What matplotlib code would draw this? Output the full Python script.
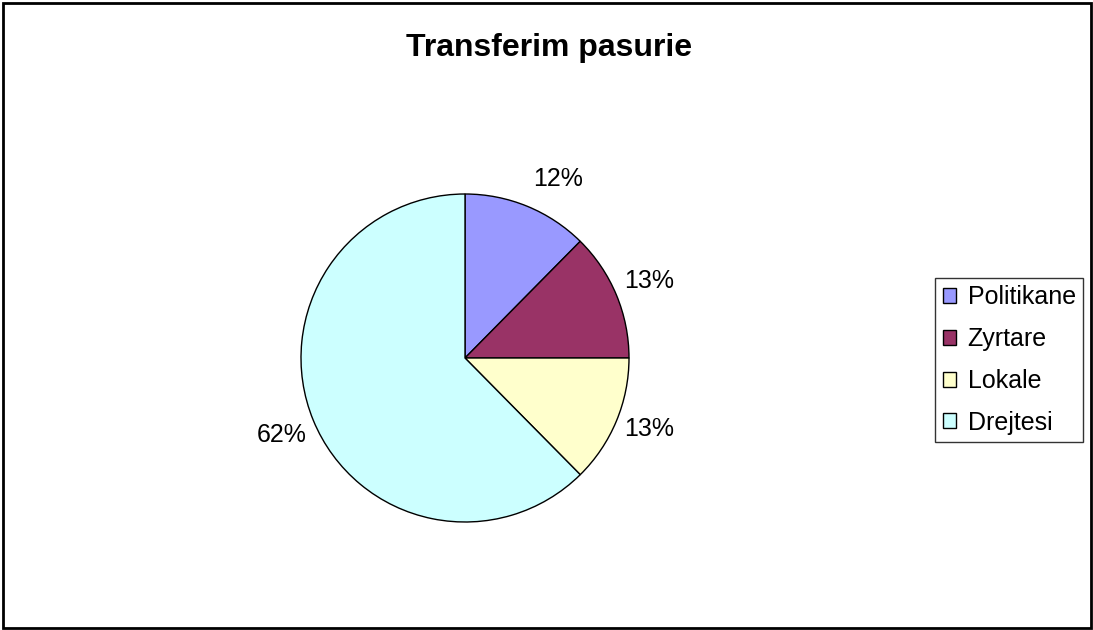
import matplotlib
matplotlib.use("Agg")
import matplotlib.pyplot as plt
from matplotlib.patches import Rectangle, Patch

categories = ["Politikane", "Zyrtare", "Lokale", "Drejtesi"]
values = [12.4, 12.6, 12.6, 62.4]
colors = ["#9999FF", "#993366", "#FFFFCC", "#CCFFFF"]
title = "Transferim pasurie"

plt.rcParams['font.family'] = ['Liberation Sans', 'DejaVu Sans']

W, H = 1093, 630
fig = plt.figure(figsize=(W / 100, H / 100), dpi=100)

cx, cy, r = 465, 358, 164
ax = fig.add_axes([(cx - r) / W, (H - cy - r) / H, 2 * r / W, 2 * r / H])
wedges, texts, autotexts = ax.pie(
    values, colors=colors, startangle=90, counterclock=False,
    autopct='%.0f%%', pctdistance=1.22,
    wedgeprops=dict(edgecolor='black', linewidth=1.0),
    textprops=dict(fontsize=18, color='black'))
# small label nudges to match the reference placement
autotexts[0].set_position((0.567, 1.09))
x2, _ = autotexts[2].get_position()
autotexts[2].set_position((x2, -0.43))
x3, _ = autotexts[3].get_position()
autotexts[3].set_position((x3 + 0.01, -0.47))
ax.set_xlim(-1, 1)
ax.set_ylim(-1, 1)
ax.set_aspect('equal')
ax.axis('off')

fig.text(549 / W, 1 - 48 / H, title, ha='center', va='center',
         fontsize=23, fontweight='bold')

handles = [Patch(facecolor=c, edgecolor='black', linewidth=1.0) for c in colors]
leg = fig.legend(handles, categories, loc='upper left',
                 bbox_to_anchor=(935 / W, 1 - 278 / H),
                 fontsize=18, frameon=True, fancybox=False,
                 edgecolor='black', handlelength=0.55, handleheight=0.55,
                 handletextpad=0.45, borderpad=0.3, labelspacing=0.71,
                 borderaxespad=0)
leg.get_frame().set_linewidth(1.0)

fig.patches.append(Rectangle((2.5 / W, 2.5 / H), 1 - 5 / W, 1 - 5 / H,
                             transform=fig.transFigure, fill=False,
                             edgecolor='black', linewidth=2))

fig.savefig("out.png", dpi=100, facecolor='white')
